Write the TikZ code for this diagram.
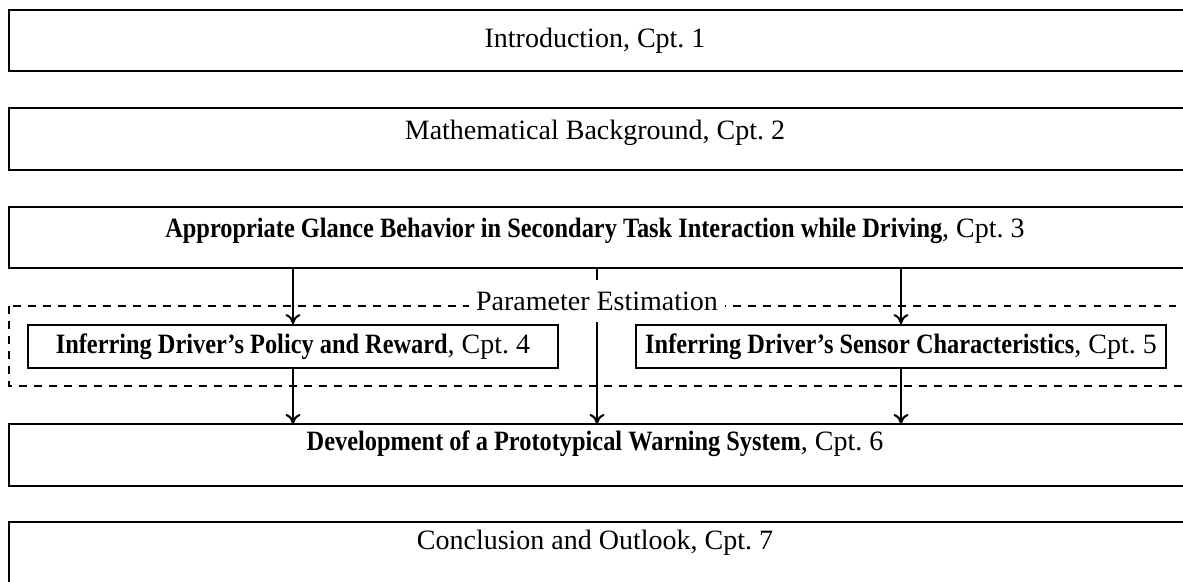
\documentclass[tikz,border=0pt]{standalone}
\usepackage{fontspec}
\setmainfont{Liberation Serif}[BoldFeatures={FakeStretch=0.87}]
\usetikzlibrary{arrows.meta}

\newcommand{\boxfont}{\fontsize{11.2}{13}\selectfont}

\tikzset{
  chapter/.style={draw, line width=0.9pt},
  part/.style={draw, line width=0.9pt, font=\boxfont, minimum width=530*0.4pt, minimum height=41*0.4pt},
  group/.style={draw, dashed, line width=0.8pt},
  flow/.style={line width=0.8pt, -{To[length=4pt,width=6pt]}},
  caption/.style={font=\boxfont, inner sep=0pt},
}

\begin{document}
\begin{tikzpicture}[x=0.4pt, y=-0.4pt]
  \useasboundingbox (0,0) rectangle (1183,581);

  % chapter frames, running past the right margin
  \draw[chapter] (9,10)  rectangle (1190,71);
  \draw[chapter] (9,108) rectangle (1190,170);
  \draw[chapter] (9,207) rectangle (1190,268);
  \draw[chapter] (9,424) rectangle (1190,486);
  \draw[chapter] (9,522) rectangle (1190,600);

  \node[caption] (c1) at (595,41)  {Introduction, Cpt.~1};
  \node[caption] (c2) at (595,133) {Mathematical Background, Cpt.~2};
  \node[caption] (c3) at (595,231) {\textbf{Appropriate Glance Behavior in Secondary Task Interaction while Driving}, Cpt.~3};
  \node[caption] (c6) at (595,444) {\textbf{Development of a Prototypical Warning System}, Cpt.~6};
  \node[caption] (c7) at (595,543) {Conclusion and Outlook, Cpt.~7};

  % anchor points on the frame edges
  \coordinate (b3l) at (293,268);
  \coordinate (b3m) at (597,268);
  \coordinate (b3r) at (901,268);
  \coordinate (b6l) at (293,424);
  \coordinate (b6m) at (597,424);
  \coordinate (b6r) at (901,424);

  % parameter estimation group
  \draw[group] (9,306) rectangle (1195,386);

  \node[part] (c4) at (293,346.5)
        {\textbf{Inferring Driver’s Policy and Reward}, Cpt.~4};
  \node[part] (c5) at (901,346.5)
        {\textbf{Inferring Driver’s Sensor Characteristics}, Cpt.~5};

  % connectors
  \draw[flow] (b3l) -- (c4.north);
  \draw[flow] (b3r) -- (c5.north);
  \draw[flow] (c4.south) -- (b6l);
  \draw[flow] (c5.south) -- (b6r);
  \draw[flow] (b3m) -- (b6m);

  \node[fill=white, inner xsep=3pt, minimum height=17pt, font=\boxfont] (pe) at (597,301) {Parameter Estimation};
\end{tikzpicture}
\end{document}
